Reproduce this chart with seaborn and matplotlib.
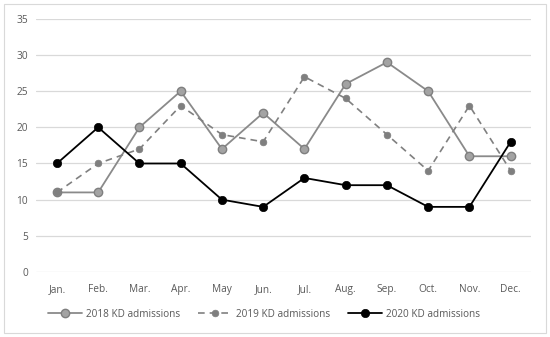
import matplotlib
matplotlib.use("Agg")
import matplotlib.pyplot as plt
import seaborn as sns
import pandas as pd
from matplotlib.patches import Rectangle

months = ["Jan.", "Feb.", "Mar.", "Apr.", "May", "Jun.", "Jul.", "Aug.", "Sep.", "Oct.", "Nov.", "Dec."]
adm_2018 = [11, 11, 20, 25, 17, 22, 17, 26, 29, 25, 16, 16]
adm_2019 = [11, 15, 17, 23, 19, 18, 27, 24, 19, 14, 23, 14]
adm_2020 = [15, 20, 15, 15, 10, 9, 13, 12, 12, 9, 9, 18]
series_names = ["2018 KD admissions", "2019 KD admissions", "2020 KD admissions"]
y_ticks = [0, 5, 10, 15, 20, 25, 30, 35]

sns.set_style("white")
plt.rcParams['font.family'] = ['Open Sans', 'DejaVu Sans']

fig = plt.figure(figsize=(5.5, 3.37), dpi=100)
ax = fig.add_axes([0.066, 0.193, 0.90, 0.751])

x_idx = list(range(len(months)))
styles = [
    dict(color="#8a8a8a", linestyle="-", marker="o", markersize=6, markerfacecolor="#a3a3a3", markeredgecolor="#7f7f7f", markeredgewidth=1.0, linewidth=1.3),
    dict(color="#808080", linestyle=(0, (4, 3)), marker="o", markersize=4.8, markerfacecolor="#7f7f7f", markeredgecolor="#7f7f7f", markeredgewidth=0.5, linewidth=1.2),
    dict(color="#000000", linestyle="-", marker="o", markersize=6, markerfacecolor="#000000", markeredgecolor="#000000", markeredgewidth=0.5, linewidth=1.3),
]
for name, vals, st in zip(series_names, [adm_2018, adm_2019, adm_2020], styles):
    df = pd.DataFrame({"x": x_idx, "y": vals})
    sns.lineplot(data=df, x="x", y="y", ax=ax, label=name, **st)

ax.set_xlim(-0.5, len(months) - 0.5)
ax.set_ylim(0, 35)
ax.set_yticks(y_ticks)
ax.set_xticks(x_idx)
ax.set_xticklabels(months)
ax.set_xlabel("")
ax.set_ylabel("")
for s in ax.spines.values():
    s.set_visible(False)
ax.grid(axis="y", color="#d9d9d9", linewidth=0.9)
ax.set_axisbelow(True)
ax.tick_params(axis="both", length=0, labelsize=7.3, labelcolor="#595959", pad=6)
ax.tick_params(axis="x", pad=9)

leg = ax.legend(loc="upper center", bbox_to_anchor=(0.46, -0.11), ncol=3, frameon=False,
                fontsize=7.2, handlelength=3.4, columnspacing=1.8, handletextpad=0.4)
for t in leg.get_texts():
    t.set_color("#595959")

fig.patches.append(Rectangle((0.008, 0.012), 0.984, 0.975, transform=fig.transFigure,
                             fill=False, edgecolor="#d9d9d9", linewidth=0.8))

fig.savefig("out.png", dpi=100)
